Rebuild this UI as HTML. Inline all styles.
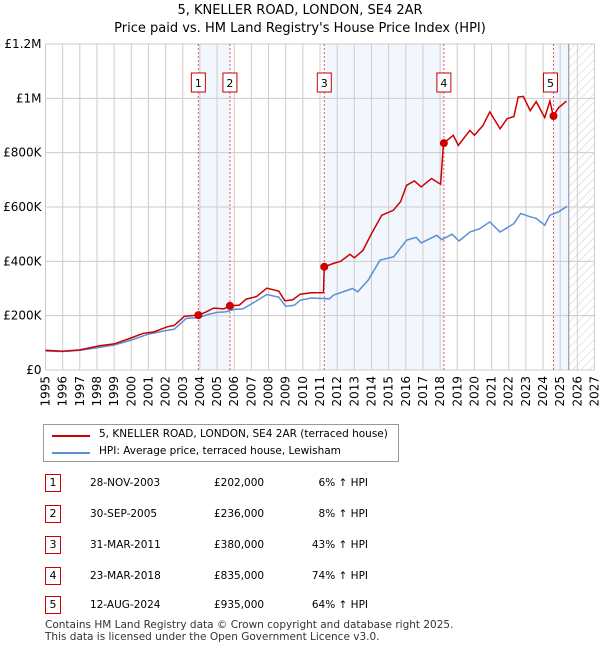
<!DOCTYPE html>
<html><head><meta charset="utf-8">
<style>
body{margin:0;background:#fff;font-family:"DejaVu Sans",sans-serif;}
#wrap{position:relative;width:600px;height:650px;overflow:hidden;}
.t{position:absolute;font-size:12px;color:#000;white-space:nowrap;}
.nb{position:absolute;width:14px;height:16px;border:1px solid #c00;font-size:11px;text-align:center;line-height:16px;}
</style></head><body>
<div id="wrap">
<svg id="chart" width="600" height="420" style="position:absolute;left:0;top:0">
<defs><pattern id="hatch" width="6" height="6" patternUnits="userSpaceOnUse" patternTransform="rotate(45)"><line x1="0" y1="0" x2="0" y2="6" stroke="#ccc" stroke-width="1"/></pattern></defs>
<text x="300" y="14" text-anchor="middle" font-size="13" font-family="DejaVu Sans, sans-serif">5, KNELLER ROAD, LONDON, SE4 2AR</text>
<text x="300" y="32" text-anchor="middle" font-size="13" font-family="DejaVu Sans, sans-serif">Price paid vs. HM Land Registry's House Price Index (HPI)</text>
<g id="bg"></g><g id="grid"></g><g id="series"></g><g id="axes"></g>
</svg>
<div style="position:absolute;left:43px;top:424px;width:354px;height:36px;border:1px solid #999;">
<div style="position:absolute;left:8px;top:10px;width:38px;height:2px;background:#c00"></div>
<div class="t" style="left:55px;top:3px;font-size:10.5px">5, KNELLER ROAD, LONDON, SE4 2AR (terraced house)</div>
<div style="position:absolute;left:8px;top:27px;width:38px;height:2px;background:#5b8fd6"></div>
<div class="t" style="left:55px;top:20px;font-size:10.5px">HPI: Average price, terraced house, Lewisham</div>
</div>
<div id="table"></div>
<div class="t" style="left:45px;top:619px;font-size:10.5px;color:#333">Contains HM Land Registry data © Crown copyright and database right 2025.</div>
<div class="t" style="left:45px;top:631px;font-size:10.5px;color:#333">This data is licensed under the Open Government Licence v3.0.</div>
</div>
<script>
const yearTicks=[1995,1996,1997,1998,1999,2000,2001,2002,2003,2004,2005,2006,2007,2008,2009,2010,2011,2012,2013,2014,2015,2016,2017,2018,2019,2020,2021,2022,2023,2024,2025,2026,2027];
const valueTicks=[0,200000,400000,600000,800000,1000000,1200000];
const valueLabels=["£0","£200K","£400K","£600K","£800K","£1M","£1.2M"];
const priceYears=[1995,1996,1997,1998.2,1999,1999.9,2000.7,2001.3,2002.1,2002.5,2003.1,2003.9,2004.3,2004.8,2005.4,2005.75,2006.3,2006.7,2007.3,2007.9,2008.6,2008.95,2009.4,2009.85,2010.5,2011.2,2011.25,2011.77,2012.2,2012.74,2013.0,2013.5,2014.0,2014.6,2015.27,2015.7,2016.05,2016.5,2016.9,2017.5,2018.03,2018.2,2018.5,2018.77,2019.06,2019.74,2020.0,2020.5,2020.9,2021.5,2021.9,2022.3,2022.55,2022.85,2023.25,2023.6,2024.1,2024.4,2024.6,2024.9,2025.37];
const priceValues=[73000,69000,74000,90000,96000,116000,135000,140000,159000,164000,198000,202000,212000,228000,225000,236000,239000,261000,270000,301000,290000,255000,258000,279000,284000,285000,380000,392000,400000,426000,413000,440000,502000,570000,588000,620000,680000,696000,674000,705000,684000,835000,850000,864000,827000,882000,864000,900000,950000,888000,925000,933000,1005000,1007000,955000,988000,929000,990000,935000,965000,990000];
const hpiYears=[1995,1996,1997,1998,1999,2000,2001,2002,2002.5,2003.2,2003.9,2004.5,2005,2005.5,2006,2006.5,2007,2007.9,2008.6,2009.0,2009.5,2009.85,2010.5,2011.55,2011.8,2012.9,2013.2,2013.8,2014.5,2015.3,2016.05,2016.6,2016.9,2017.8,2018.1,2018.7,2019.1,2019.74,2020.3,2020.9,2021.5,2022.3,2022.7,2023.25,2023.6,2024.1,2024.4,2024.9,2025.4];
const hpiValues=[70000,68000,72000,82000,92000,110000,132000,145000,150000,190000,192000,205000,212000,214000,223000,225000,243000,278000,268000,235000,238000,257000,265000,262000,276000,300000,288000,330000,404000,417000,478000,488000,468000,496000,480000,500000,475000,508000,520000,545000,508000,539000,576000,564000,558000,533000,570000,582000,603000];
const saleLabels=["1","2","3","4","5"];
const saleYears=[2003.91,2005.75,2011.25,2018.22,2024.61];
const salePrices=[202000,236000,380000,835000,935000];
const saleDates=["28-NOV-2003","30-SEP-2005","31-MAR-2011","23-MAR-2018","12-AUG-2024"];
const salePriceText=["£202,000","£236,000","£380,000","£835,000","£935,000"];
const saleHpiText=["6% ↑ HPI","8% ↑ HPI","43% ↑ HPI","74% ↑ HPI","64% ↑ HPI"];
const dataEnd=2025.5;

const X0=45.5,X1=594.5,Y0=370,Y1=44;
const xS=y=>X0+(y-1995)/(2027-1995)*(X1-X0);
const yS=v=>Y0-v/1200000*(Y0-Y1);
const NS="http://www.w3.org/2000/svg";
function mk(tag,attrs,parent){const e=document.createElementNS(NS,tag);for(const k in attrs)e.setAttribute(k,attrs[k]);parent.appendChild(e);return e;}
const bg=document.getElementById('bg'),grid=document.getElementById('grid'),ser=document.getElementById('series'),ax=document.getElementById('axes');
[[0,1],[2,3],[4,-1]].forEach(p=>{const a=xS(saleYears[p[0]]),b=p[1]<0?xS(dataEnd):xS(saleYears[p[1]]);
const r=mk('rect',{x:a,y:Y1,width:b-a,height:Y0-Y1,fill:'#eef3fc',opacity:0.75},bg);

});
const h=mk('rect',{x:xS(dataEnd),y:Y1,width:X1-xS(dataEnd),height:Y0-Y1,fill:'url(#hatch)'},bg);


yearTicks.forEach(y=>{const l=mk('line',{x1:xS(y),x2:xS(y),y1:Y1,y2:Y0,stroke:'#ccc','stroke-width':1},grid);


const t=mk('text',{x:0,y:0,transform:`translate(${xS(y)+4},${Y0+6}) rotate(-90)`,'text-anchor':'end','font-size':12,'font-family':'DejaVu Sans, sans-serif'},ax);t.textContent=y;

});
valueTicks.forEach((v,i)=>{const l=mk('line',{x1:X0,x2:X1,y1:yS(v),y2:yS(v),stroke:'#ccc','stroke-width':1},grid);


const t=mk('text',{x:X0-4,y:yS(v)+4,'text-anchor':'end','font-size':12,'font-family':'DejaVu Sans, sans-serif'},ax);t.textContent=valueLabels[i];

});
const el=mk('line',{x1:xS(dataEnd),x2:xS(dataEnd),y1:Y1,y2:Y0,stroke:'#889','stroke-width':1},grid);


saleYears.forEach((y,i)=>{const l=mk('line',{x1:xS(y),x2:xS(y),y1:Y1,y2:Y0,stroke:'#e55','stroke-width':1,'stroke-dasharray':'2,2'},grid);


const r=mk('rect',{x:xS(y)-7-(i==4?3:0),y:73,width:14,height:19,fill:'#fff',stroke:'#c00'},ax);


const t=mk('text',{x:xS(y)-(i==4?3:0),y:87,'text-anchor':'middle','font-size':11,'font-family':'DejaVu Sans, sans-serif'},ax);t.textContent=saleLabels[i];

});
const pts=(ys,vs)=>ys.map((y,i)=>xS(y).toFixed(1)+','+yS(vs[i]).toFixed(1)).join(' ');
const hl=mk('polyline',{points:pts(hpiYears,hpiValues),fill:'none',stroke:'#5b8fd6','stroke-width':1.5},ser);


const pl=mk('polyline',{points:pts(priceYears,priceValues),fill:'none',stroke:'#cc0000','stroke-width':1.5},ser);


saleYears.forEach((y,i)=>{const c=mk('circle',{cx:xS(y),cy:yS(salePrices[i]),r:4,fill:'#cc0000'},ser);

});
const tb=document.getElementById('table');
const rowY=[474,505,536,567,596];
saleLabels.forEach((s,i)=>{
const r=document.createElement('div');r.style.cssText=`position:absolute;left:0;top:${rowY[i]}px;width:600px;height:20px;`;


r.innerHTML=`<div class="nb" style="left:45px;top:0">${s}</div><div class="t" style="left:90px;top:3px;font-size:10.5px">${saleDates[i]}</div><div class="t" style="left:214px;top:3px;font-size:10.5px">${salePriceText[i]}</div><div class="t" style="right:232px;top:3px;font-size:10.5px">${saleHpiText[i]}</div>`;
tb.appendChild(r);});
</script>
</body></html>
